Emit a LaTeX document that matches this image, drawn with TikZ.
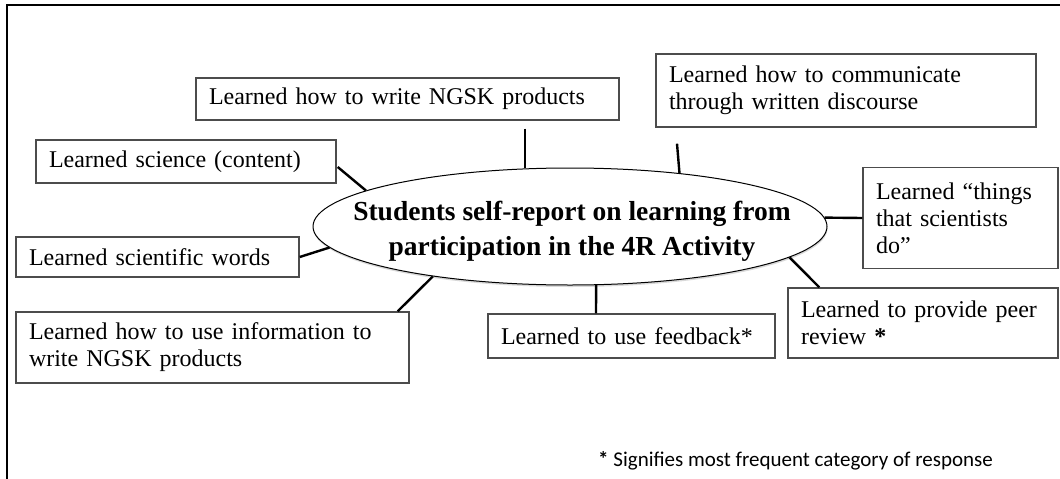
\documentclass[tikz,border=0pt]{standalone}
\usepackage{fontspec}
\setmainfont{Liberation Serif}
\newfontfamily\notefont{Carlito}
\usetikzlibrary{shapes.geometric,calc,shadows}
\begin{document}
\begin{tikzpicture}[x=1pt,y=-1pt,
  card/.style={rectangle, draw=black!70, line width=1.4pt, inner xsep=13pt, inner ysep=0pt,
    align=left, font=\fontsize{24}{27}\selectfont},
  link/.style={line width=2.4pt, black},
  hubshape/.style={ellipse, draw, line width=1pt, minimum width=514pt, minimum height=117pt,
    inner sep=0pt, fill=white,
    drop shadow={shadow xshift=0.5pt, shadow yshift=-2pt, opacity=0.25, fill=black!60}},
  hublabel/.style={align=center, inner sep=0pt, font=\bfseries\fontsize{27.5}{35}\selectfont},
  footnote/.style={anchor=base west, inner sep=0pt, font=\notefont\fontsize{21}{24}\selectfont}
]
\useasboundingbox (0,0) rectangle (1060,479);

% frame
\draw[line width=2.2pt] (7,479) -- (7,5) -- (1060,5);

% central topic
\node[hubshape] (hub) at (570,226.5) {};
\node[hublabel] (hubtext) at (572,231) {Students self-report on learning from\\participation in the 4R Activity};

% outcome boxes
\node[card, text width=397pt, minimum height=42pt] (A) at (407.5,99) {Learned how to write NGSK products};
\node[card, text width=354pt, minimum height=73pt] (B) at (846,90.5) {Learned how to communicate\\through written discourse};
\node[card, text width=274pt, minimum height=43pt] (C) at (186,161.5) {Learned science (content)};
\node[card, text width=169pt, minimum height=101pt] (D) at (960.5,218) {Learned “things\\that scientists\\do”};
\node[card, text width=257pt, minimum height=40pt] (E) at (157.5,257) {Learned scientific words};
\node[card, text width=367pt, minimum height=71pt] (F) at (212.5,347.5) {Learned how to use information to\\write NGSK products};
\node[card, text width=261pt, minimum height=44pt] (G) at (631.5,336) {Learned to use feedback*};
\node[card, text width=244pt, minimum height=70pt] (H) at (923,323) {Learned to provide peer\\review \textbf{*}};

% connectors
\coordinate (a0) at ($(A.south)+(117.5,8)$);
\coordinate (b0) at ($(B.south)+(-169,16)$);
\coordinate (g0) at ($(G.north)+(-35.5,0)$);
\draw[link] ($(C.east)+(1,5.5)$) -- (hub.170);
\draw[link] (a0) -- (a0 |- hub.north);
\draw[link] (b0) -- (hub.26.4);
\draw[link] (hub.2) -- (D.west);
\draw[link] (E.east) -- (hub.185);
\draw[link] ($(F.north east)+(-12,0)$) -- (hub.200);
\draw[link] (g0) -- (hub.294);
\draw[link] ($(H.north west)+(32,0)$) -- (hub.352);

% legend
\node[footnote] (note) at (598,466) {\textbf{*} Signifies most frequent category of response};
\end{tikzpicture}
\end{document}
